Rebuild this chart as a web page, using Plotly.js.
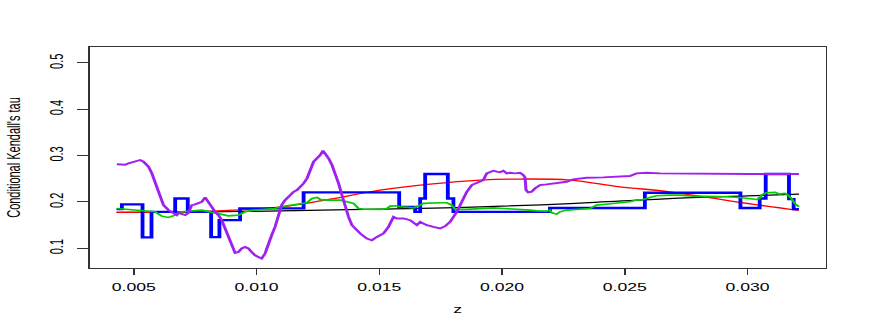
<!DOCTYPE html>
<html>
<head>
<meta charset="utf-8">
<script src="https://cdn.plot.ly/plotly-3.0.1.min.js"></script>
<style>
html, body { margin:0; padding:0; width:872px; height:327px; overflow:hidden; background:#fff; }
#plot { width:545px; height:327px; transform: scaleX(1.6); transform-origin: 0 0; }
</style>
</head>
<body>
<div id="plot"></div>
<script>
// ---- data ----
const blackZ   = [0.0043, 0.0080, 0.0110, 0.0150, 0.0191, 0.0230, 0.0268, 0.0300, 0.0321];
const blackTau = [0.1773, 0.1785, 0.1807, 0.1845, 0.1894, 0.1970, 0.2071, 0.2130, 0.2169];

const redZ   = [0.004296, 0.006900, 0.009341, 0.011294, 0.013003, 0.015037, 0.017071, 0.019105, 0.020732, 0.022766, 0.024801, 0.026835, 0.029479, 0.032083];
const redTau = [0.1773, 0.1785, 0.1830, 0.1910, 0.2060, 0.2255, 0.2385, 0.2472, 0.2494, 0.2472, 0.2327, 0.2219, 0.2006, 0.1816];

const blueZ   = [0.004296, 0.004512, 0.005354, 0.005720, 0.006684, 0.007197, 0.008149, 0.008487, 0.009329, 0.011916, 0.015810, 0.016460, 0.016664, 0.016868, 0.017791, 0.018019, 0.021953, 0.025818, 0.029711, 0.030496, 0.030741, 0.031689, 0.031880, 0.032095];
const blueTau = [0.1844, 0.1946, 0.1235, 0.1786, 0.2075, 0.1786, 0.1240, 0.1606, 0.1860, 0.2206, 0.1894, 0.1786, 0.2075, 0.2602, 0.2075, 0.1786, 0.1870, 0.2197, 0.1870, 0.2075, 0.2602, 0.2060, 0.1844, 0.1844];

const greenZ = [0.004308, 0.005191, 0.005871, 0.006139, 0.006412, 0.006684, 0.006953, 0.007767, 0.008312, 0.008853, 0.009260, 0.009532, 0.009939, 0.010753,
  0.010968, 0.011648, 0.012055, 0.012258, 0.012462, 0.012596, 0.012868, 0.013409, 0.013682, 0.013950, 0.014154, 0.014357, 0.015037, 0.015309, 0.015444, 0.015716, 0.015850, 0.016391, 0.016664, 0.016798, 0.017478, 0.017750, 0.017953, 0.018088, 0.018564,
  0.019105, 0.019378, 0.019646, 0.020053, 0.020732, 0.021139, 0.021412, 0.021819, 0.021953, 0.022022, 0.022225, 0.022360, 0.022632, 0.023173, 0.023580, 0.023714, 0.023853, 0.024121, 0.024801, 0.025207, 0.025480, 0.025749, 0.026021, 0.026294, 0.026835,
  0.027242, 0.027783, 0.028462, 0.029142, 0.029683, 0.029955, 0.030362, 0.030496, 0.030565, 0.030769, 0.031123, 0.031310, 0.031514, 0.031648, 0.031786, 0.031920, 0.032095];
const greenTau = [0.1859, 0.1823, 0.1786, 0.1693, 0.1665, 0.1714, 0.1786, 0.1823, 0.1764, 0.1699, 0.1714, 0.1786, 0.1823, 0.1859,
  0.1894, 0.1952, 0.1981, 0.2076, 0.2097, 0.2054, 0.2039, 0.2039, 0.2002, 0.1968, 0.1859, 0.1844, 0.1838, 0.1859, 0.1909, 0.1916, 0.1894, 0.1872, 0.1931, 0.1968, 0.1981, 0.1981, 0.1931, 0.1838, 0.1838,
  0.1851, 0.1859, 0.1872, 0.1859, 0.1844, 0.1823, 0.1807, 0.1801, 0.1823, 0.1764, 0.1736, 0.1786, 0.1823, 0.1844, 0.1859, 0.1894, 0.1931, 0.1946, 0.1981, 0.2002, 0.2039, 0.2054, 0.2097, 0.2132, 0.2147,
  0.2147, 0.2126, 0.2126, 0.2110, 0.2097, 0.2076, 0.2054, 0.2076, 0.2147, 0.2197, 0.2206, 0.2169, 0.2184, 0.2147, 0.2076, 0.1968, 0.1894];

const purpleZ = [0.004308, 0.004512, 0.004650, 0.004784, 0.005057, 0.005260, 0.005395, 0.005598, 0.005732, 0.005871, 0.006005, 0.006074, 0.006208, 0.006412, 0.006615, 0.006749, 0.006819, 0.006953, 0.007091, 0.007225,
  0.007360, 0.007498, 0.007632, 0.007767, 0.007905, 0.007970, 0.008039, 0.008173, 0.008312, 0.008446, 0.008580, 0.008719, 0.008853, 0.008987, 0.009126, 0.009260, 0.009394, 0.009532, 0.009667, 0.009801,
  0.009939, 0.010073, 0.010208, 0.010346, 0.010480, 0.010614, 0.010753, 0.010887, 0.011021, 0.011160, 0.011294, 0.011375, 0.011509, 0.011648, 0.011782, 0.011916, 0.012055, 0.012189, 0.012323, 0.012462,
  0.012596, 0.012706, 0.012799, 0.012933, 0.013072, 0.013206, 0.013340, 0.013479, 0.013613, 0.013747, 0.013885, 0.014020, 0.014223, 0.014496, 0.014699, 0.014903, 0.015171, 0.015374, 0.015578, 0.015716,
  0.015985, 0.016257, 0.016530, 0.016664, 0.016936, 0.017205, 0.017478, 0.017681, 0.017885, 0.018157, 0.018360, 0.018564, 0.018767, 0.019105, 0.019239, 0.019378, 0.019512, 0.019646, 0.019785, 0.019919,
  0.020053, 0.020191, 0.020325, 0.020529, 0.020732, 0.020867, 0.020936, 0.020977, 0.021070, 0.021209, 0.021343, 0.021546, 0.021819, 0.022225, 0.022632, 0.022901, 0.023446, 0.024121, 0.024801, 0.025207,
  0.025480, 0.025887, 0.026428, 0.028060, 0.030100, 0.032095];
const purpleTau = [0.2812, 0.2812, 0.2803, 0.2833, 0.2868, 0.2905, 0.2868, 0.2760, 0.2617, 0.2400, 0.2255, 0.2076, 0.1931, 0.1823, 0.1751, 0.1714, 0.1764, 0.1736, 0.1714, 0.1764,
  0.1931, 0.1946, 0.1968, 0.2002, 0.2097, 0.2039, 0.1968, 0.1894, 0.1786, 0.1714, 0.1606, 0.1426, 0.1245, 0.1028, 0.0898, 0.0920, 0.0994, 0.1028, 0.0994, 0.0920,
  0.0848, 0.0812, 0.0777, 0.0885, 0.1102, 0.1281, 0.1461, 0.1677, 0.1931, 0.2039, 0.2097, 0.2147, 0.2219, 0.2255, 0.2327, 0.2400, 0.2509, 0.2725, 0.2868, 0.2942,
  0.3013, 0.3106, 0.3050, 0.2942, 0.2797, 0.2617, 0.2400, 0.2147, 0.1894, 0.1677, 0.1498, 0.1426, 0.1318, 0.1210, 0.1173, 0.1245, 0.1318, 0.1461, 0.1677, 0.1643,
  0.1643, 0.1606, 0.1498, 0.1569, 0.1498, 0.1461, 0.1426, 0.1476, 0.1569, 0.1786, 0.2002, 0.2219, 0.2364, 0.2435, 0.2472, 0.2617, 0.2652, 0.2673, 0.2652, 0.2639,
  0.2673, 0.2617, 0.2630, 0.2617, 0.2630, 0.2580, 0.2530, 0.2255, 0.2206, 0.2219, 0.2292, 0.2364, 0.2379, 0.2400, 0.2435, 0.2487, 0.2522, 0.2530, 0.2543, 0.2558,
  0.2617, 0.2630, 0.2617, 0.2605, 0.2602, 0.2602];

const xTickVals = [0.005, 0.010, 0.015, 0.020, 0.025, 0.030];
const xTickText = ['0.005', '0.010', '0.015', '0.020', '0.025', '0.030'];
const yTickVals = [0.1, 0.2, 0.3, 0.4, 0.5];
const yTickText = ['0.1', '0.2', '0.3', '0.4', '0.5'];

// ---- chart ----
const FONT = 'Liberation Sans, Arial, Helvetica, sans-serif';
const traces = [
  {x: blackZ, y: blackTau, mode: 'lines', line: {color: '#000000', width: 1.3, shape: 'spline'}},
  {x: redZ, y: redTau, mode: 'lines', line: {color: '#FF0000', width: 1.3, shape: 'spline'}},
  {x: blueZ, y: blueTau, mode: 'lines', line: {color: '#0000FF', width: 2.4, shape: 'hv'}},
  {x: greenZ, y: greenTau, mode: 'lines', line: {color: '#00CD00', width: 1.6}},
  {x: purpleZ, y: purpleTau, mode: 'lines', line: {color: '#A020F0', width: 1.9}}
];

const layout = {
  width: 545, height: 327,
  margin: {l: 55.6, r: 28.75, t: 47.3, b: 59.3, pad: 0},
  paper_bgcolor: '#ffffff', plot_bgcolor: '#ffffff',
  showlegend: false,
  font: {family: FONT, size: 11, color: '#000000'},
  xaxis: {
    range: [0.003198, 0.033181],
    tickvals: xTickVals, ticktext: xTickText,
    ticks: 'outside', ticklen: 6, tickwidth: 1, tickcolor: '#333333',
    ticklabelstandoff: 3,
    showgrid: false, zeroline: false,
    showline: true, linecolor: '#333333', linewidth: 1, mirror: true,
    tickfont: {family: FONT, size: 11, color: '#000000'},
    title: {text: 'z', font: {family: FONT, size: 11, color: '#000000'}, standoff: 13}
  },
  yaxis: {
    range: [0.05736, 0.5344],
    tickvals: yTickVals, ticktext: yTickText,
    ticks: 'outside', ticklen: 7, tickwidth: 1, tickcolor: '#333333',
    tickangle: -90,
    ticklabelstandoff: 4,
    showgrid: false, zeroline: false,
    showline: true, linecolor: '#333333', linewidth: 1, mirror: true,
    tickfont: {family: FONT, size: 11, color: '#000000'},
    title: {text: "Conditional Kendall's tau", font: {family: FONT, size: 11, color: '#000000'}, standoff: 14}
  }
};

Plotly.newPlot('plot', traces, layout, {staticPlot: true, displayModeBar: false});
</script>
</body>
</html>
